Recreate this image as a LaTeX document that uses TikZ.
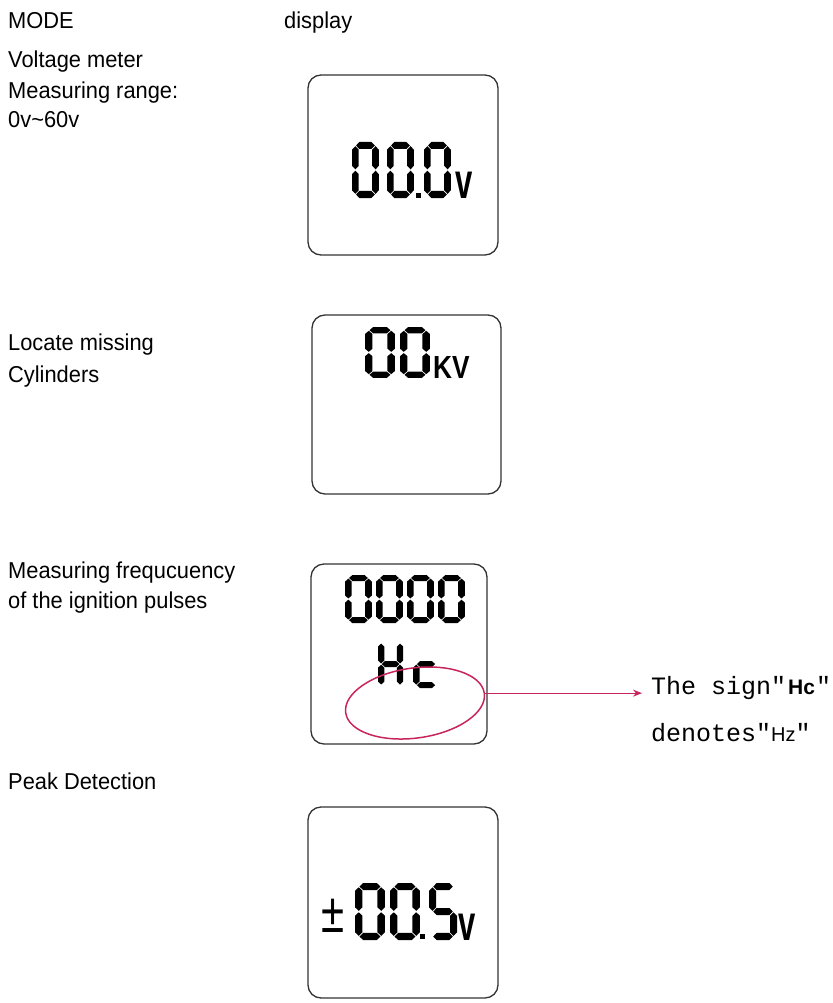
\documentclass[tikz,border=0pt]{standalone}
\usepackage{fontspec}
\setmainfont{Liberation Sans}
\newfontfamily\monofont{Liberation Mono}
\usetikzlibrary{arrows.meta,shapes.geometric,positioning}
\definecolor{markred}{HTML}{C8265A}
\definecolor{boxink}{HTML}{333333}

% seven-segment pieces (digit cell 28 x 56, stroke 7)
\newcommand{\segthk}{7}
\newcommand{\seggap}{0.7}
\newcommand{\hseg}[3]{\fill (#1+\seggap,#3) -- (#1+\seggap+\segthk/2,#3-\segthk/2)
  -- (#2-\seggap-\segthk/2,#3-\segthk/2) -- (#2-\seggap,#3)
  -- (#2-\seggap-\segthk/2,#3+\segthk/2) -- (#1+\seggap+\segthk/2,#3+\segthk/2) -- cycle;}
\newcommand{\vseg}[3]{\fill (#1,#2+\seggap) -- (#1+\segthk/2,#2+\seggap+\segthk/2)
  -- (#1+\segthk/2,#3-\seggap-\segthk/2) -- (#1,#3-\seggap)
  -- (#1-\segthk/2,#3-\seggap-\segthk/2) -- (#1-\segthk/2,#2+\seggap+\segthk/2) -- cycle;}
\newcommand{\lcdsega}{\hseg{3.5}{24.5}{3.5}}
\newcommand{\lcdsegb}{\vseg{24.5}{3.5}{28}}
\newcommand{\lcdsegc}{\vseg{24.5}{28}{52.5}}
\newcommand{\lcdsegd}{\hseg{3.5}{24.5}{52.5}}
\newcommand{\lcdsege}{\vseg{3.5}{28}{52.5}}
\newcommand{\lcdsegf}{\vseg{3.5}{3.5}{28}}
\newcommand{\lcdsegg}{\hseg{3.5}{24.5}{28}}
\newcommand{\lcddigit}[4]{%
  \begin{scope}[shift={#1},xscale=#2,yscale=#3]
    \foreach \segid in {#4}{\csname lcdseg\segid\endcsname}
  \end{scope}}

\begin{document}
\begin{tikzpicture}[x=1pt,y=-1pt,
  >={Stealth[length=9pt,width=7pt]},
  modetext/.style={anchor=base west, inner sep=0pt, xscale=0.95,
                   font=\fontsize{23}{28}\selectfont},
  lcdbox/.style={draw=boxink, line width=1.3pt, rounded corners=13pt},
  unitsign/.style n args={2}{anchor=base west, inner sep=0pt, xscale=#2,
                   font=\bfseries\fontsize{#1}{#1}\selectfont},
  signnote/.style={anchor=base west, inner sep=0pt,
                   font=\monofont\fontsize{25}{30}\selectfont},
]
\useasboundingbox (0,0) rectangle (832,1003);

% --- Column heads and mode texts ---
\node[modetext] (mode)  at (8,29)   {MODE};
\node[modetext] (disp)  at (284,29) {display};
\node[modetext] (volt)  at (8,68)   {Voltage meter};
\node[modetext] (range) at (8,99)   {Measuring range:};
\node[modetext] (span)  at (8,128)  {0v\textasciitilde60v};
\node[modetext] (locate) at (8,350) {Locate missing};
\node[modetext] (cyl)    at (8,382) {Cylinders};
\node[modetext] (freq)   at (8,578) {Measuring frequcuency};
\node[modetext] (pulse)  at (8,608) {of the ignition pulses};
\node[modetext] (peak)   at (8,789) {Peak Detection};

% --- Screens ---
\draw[lcdbox] (308,75)  rectangle (498,255);
\draw[lcdbox] (312,315) rectangle (501,494);
\draw[lcdbox] (311,564) rectangle (487,744);
\draw[lcdbox] (308,807) rectangle (498,998);

% --- 00.0v ---
\lcddigit{(352,142)}{0.96}{1}{a,b,c,d,e,f}
\lcddigit{(387,142)}{0.96}{1}{a,b,c,d,e,f}
\fill (416,193) rectangle ++(5,5);
\lcddigit{(424,142)}{0.96}{1}{a,b,c,d,e,f}
\node[unitsign={50}{0.62}] (vmeter) at (455,198) {v};

% --- 00KV ---
\lcddigit{(365,327)}{1.07}{0.91}{a,b,c,d,e,f}
\lcddigit{(400,327)}{1.07}{0.91}{a,b,c,d,e,f}
\node[unitsign={32}{0.82}] (kvolt) at (433,378) {KV};

% --- 0000 / Hc ---
\foreach \dx in {345,376,407,438}
  \lcddigit{(\dx,575)}{0.96}{0.86}{a,b,c,d,e,f};
\lcddigit{(378,640)}{0.9}{0.86}{b,c,e,f,g}
\lcddigit{(413,640)}{0.93}{0.86}{d,e,g}

% --- +-00.5v ---
\node[anchor=base, inner sep=0pt, xscale=0.75,
      font=\fontsize{56}{56}\selectfont] (pm) at (333,932) {±};
\lcddigit{(355,883)}{1.07}{1.02}{a,b,c,d,e,f}
\lcddigit{(390,883)}{1.07}{1.02}{a,b,c,d,e,f}
\fill (420,934) rectangle ++(5,5);
\lcddigit{(429,883)}{1}{1.02}{a,c,d,f,g}
\node[unitsign={50}{0.62}] (vpeak) at (458,940) {v};

% --- Hz remark ---
\node[draw=markred, line width=1.5pt, ellipse, inner sep=0pt,
      minimum width=140pt, minimum height=70pt, rotate=8] (hzmark) at (415,703) {};
\node[signnote] (signtxt) at (651,694)
  {The sign"\hspace{2pt}{\rmfamily\bfseries\fontsize{21}{21}\selectfont Hc}\hspace{1pt}"};
\node[signnote] (hznote) at (651,741)
  {denotes"{\rmfamily\fontsize{20}{20}\selectfont Hz}"};
\coordinate (signtip) at ([xshift=-9pt]signtxt.west);
\draw[->, markred, line width=1.2pt] (hzmark.east) -- (hzmark.east -| signtip);
\end{tikzpicture}
\end{document}
